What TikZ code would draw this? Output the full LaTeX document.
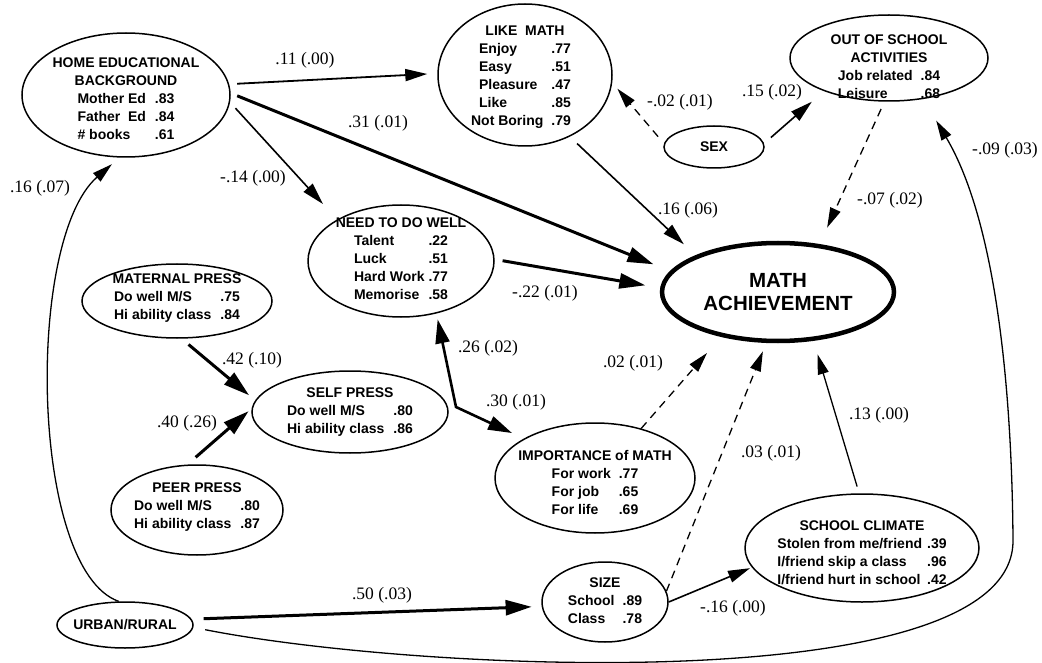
\documentclass[tikz,border=0pt]{standalone}
\usepackage{fontspec}
\setmainfont{Liberation Serif}
\newfontfamily\arialf{Liberation Sans}
\usetikzlibrary{shapes.geometric,arrows.meta}
\newcommand{\rowsblock}[2]{\begin{tabular}[t]{@{}l@{\hspace{#1}}l@{}}#2\end{tabular}}
\begin{document}
\begin{tikzpicture}[x=1pt,y=-1pt,
  ell/.style={ellipse, draw, line width=1.5pt, inner sep=0pt},
  etext/.style={font=\arialf\bfseries\fontsize{14}{18}\selectfont, align=center, inner sep=0pt},
  lab/.style={font=\fontsize{17.5}{20}\selectfont, inner sep=0pt},
  arrA/.style={line width=1.3pt, -{Triangle[length=20pt,width=11pt]}},
  arrB/.style={line width=1.8pt, -{Triangle[length=22pt,width=12pt]}},
  arrC/.style={line width=3pt, -{Triangle[length=26pt,width=15pt]}},
  dsh/.style={line width=1.3pt, dash pattern=on 8pt off 6pt, -{Triangle[length=20pt,width=11pt]}},
]
\fill[white] (0,0) rectangle (1042,663);
\useasboundingbox (0,0) rectangle (1042,663);

% ellipses
\node[ell, minimum width=208pt, minimum height=124pt] (home) at (126,95) {};
\node[ell, minimum width=174pt, minimum height=142pt] (like) at (525,75) {};
\node[ell, minimum width=198pt, minimum height=86pt] (out) at (889,58) {};
\node[ell, minimum width=100pt, minimum height=42pt] (sex) at (714,147) {};
\node[ell, minimum width=186pt, minimum height=112pt] (need) at (401,261) {};
\node[ell, minimum width=190pt, minimum height=74pt] (mat) at (177,301) {};
\node[ellipse, draw, line width=4.5pt, inner sep=0pt, minimum width=232pt, minimum height=98pt] (ach) at (778,292) {};
\node[ell, minimum width=196pt, minimum height=82pt] (self) at (350,412) {};
\node[ell, minimum width=172pt, minimum height=90pt] (peer) at (197,510) {};
\node[ell, minimum width=200pt, minimum height=110pt] (imp) at (595,478) {};
\node[ell, minimum width=126pt, minimum height=80pt] (size) at (605,602) {};
\node[ell, minimum width=234pt, minimum height=108pt] (clim) at (862,548) {};
\node[ell, minimum width=136pt, minimum height=46pt] (urban) at (125,625) {};

% texts
\node[etext, yshift=-6pt] (homeT) at (home) {HOME EDUCATIONAL\\BACKGROUND\\\rowsblock{9pt}{Mother Ed & .83\\Father~~Ed & .84\\\# books & .61}};
\node[etext, yshift=-3pt] (likeT) at (like) {LIKE~~MATH\\\rowsblock{8pt}{Enjoy & .77\\Easy & .51\\Pleasure & .47\\Like & .85\\\hspace*{-8pt}Not Boring & .79}};
\node[etext, yshift=-11pt] (outT) at (out) {OUT OF SCHOOL\\ACTIVITIES\\\rowsblock{8pt}{Job related & .84\\Leisure & .68}};
\node[etext] (sexT) at (sex) {SEX};
\node[etext] (needT) at (need) {NEED TO DO WELL\\\rowsblock{4pt}{Talent & .22\\Luck & .51\\Hard Work & .77\\Memorise & .58}};
\node[etext, yshift=2pt] (matT) at (mat) {MATERNAL PRESS\\\rowsblock{9pt}{Do well M/S & .75\\Hi ability class & .84}};
\node[etext, font=\arialf\bfseries\fontsize{20.5}{23}\selectfont] (achT) at (ach) {MATH\\ACHIEVEMENT};
\node[etext, yshift=-1pt] (selfT) at (self) {SELF PRESS\\\rowsblock{9pt}{Do well M/S & .80\\Hi ability class & .86}};
\node[etext, yshift=2pt] (peerT) at (peer) {PEER PRESS\\\rowsblock{9pt}{Do well M/S & .80\\Hi ability class & .87}};
\node[etext, yshift=-7pt] (impT) at (imp) {IMPORTANCE of MATH\\\rowsblock{8pt}{For work & .77\\For job & .65\\For life & .69}};
\node[etext, yshift=-1pt] (sizeT) at (size) {SIZE\\\rowsblock{8pt}{School & .89\\Class & .78}};
\node[etext, yshift=-7pt] (climT) at (clim) {SCHOOL CLIMATE\\\rowsblock{5pt}{Stolen from me/friend & .39\\I/friend skip a class & .96\\I/friend hurt in school & .42}};
\node[etext] (urbanT) at (urban) {URBAN/RURAL};

% connectors
\draw[arrB, shorten <=8pt, shorten >=10pt] (home.6) -- (like.179);
\draw[arrC, shorten <=7pt, shorten >=18pt] (home.1) -- (ach.169);
\draw[arrB, line width=1.6pt, shorten <=8pt, shorten >=21pt] (home.-4) -- (need.147);
\draw[arrB, line width=1.6pt, shorten <=10pt, shorten >=16pt] (like.-54) -- (ach.156);
\draw[dsh, shorten <=9pt, shorten >=8pt] (sex.176) -- (like.-5);
\draw[arrB, line width=1.6pt, shorten <=9pt, shorten >=16pt] (sex.4) -- (out.207);
\draw[dsh, shorten <=8pt, shorten >=18pt] (out.-96) -- (ach.49);
\draw[arrC, shorten <=8pt, shorten >=15pt] (need.1) -- (ach.178);
\draw[arrC, shorten <=9pt, shorten >=8pt] (mat.-83) -- (self.173);
\draw[arrC, shorten <=11pt, shorten >=4pt] (peer.102) -- (self.178);
\coordinate (bend) at (456,407);
\draw[line width=2.6pt, {Triangle[length=24pt,width=14pt]}-{Triangle[length=24pt,width=14pt]}, shorten <=6pt, shorten >=13pt] (need.-56) -- (bend) -- (imp.151.5);
\draw[dsh] (imp.47) -- ([yshift=-20pt]ach.210);
\draw[dsh, shorten >=9pt] (size.10) -- (ach.-103);
\draw[arrB, line width=1.6pt, shorten >=2pt] (size.0) -- (clim.190);
\draw[arrA, shorten <=7pt, shorten >=14pt] (clim.93) -- (ach.-54);
\draw[arrC, shorten <=12pt, shorten >=10pt] (urban.5) -- (size.184);
\draw[arrA, shorten >=10pt] (urban.105) .. controls (30,570) and (25,240) .. (home.264);
\coordinate (c9) at (1013,540);
\draw[arrA, shorten <=12pt, shorten >=25pt] (urban.-2) .. controls (420,672) and (1015,700) .. (c9) .. controls (1012,400) and (998,225) .. (out.-50);

% labels
\node[lab] (l1) at (305,60) {.11 (.00)};
\node[lab] (l2) at (378,123) {.31 (.01)};
\node[lab] (l3) at (253,178) {-.14 (.00)};
\node[lab] (l4) at (40,188) {.16 (.07)};
\node[lab] (l5) at (680,102) {-.02 (.01)};
\node[lab] (l6) at (772,92) {.15 (.02)};
\node[lab] (l7) at (688,210) {.16 (.06)};
\node[lab] (l8) at (890,200) {-.07 (.02)};
\node[lab] (l9) at (1005,150) {-.09 (.03)};
\node[lab] (l10) at (545,293) {-.22 (.01)};
\node[lab] (l11) at (488,348) {.26 (.02)};
\node[lab] (l12) at (633,363) {.02 (.01)};
\node[lab] (l13) at (252,360) {.42 (.10)};
\node[lab] (l14) at (187,423) {.40 (.26)};
\node[lab] (l15) at (516,402) {.30 (.01)};
\node[lab] (l16) at (771,453) {.03 (.01)};
\node[lab] (l17) at (879,415) {.13 (.00)};
\node[lab] (l18) at (733,608) {-.16 (.00)};
\node[lab] (l19) at (382,595) {.50 (.03)};
\end{tikzpicture}
\end{document}
